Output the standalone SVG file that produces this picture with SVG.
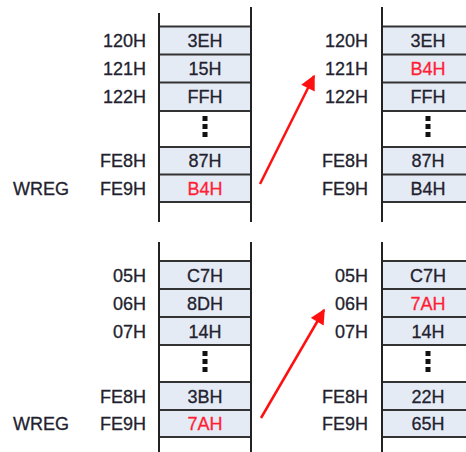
<svg xmlns="http://www.w3.org/2000/svg" width="466" height="452" viewBox="0 0 466 452">
<defs>
<style>
.cell{fill:#e5ebf5;stroke:none}
.hl{stroke:#333;stroke-width:2;fill:none}
.vl{stroke:#222;stroke-width:2;fill:none}
text{font-family:"Liberation Sans",Arial,sans-serif;font-size:18px;fill:#22222e;stroke:#22222e;stroke-width:0.3}
.addr{text-anchor:end}
.val{text-anchor:middle}
text.red{fill:#ff1f35;stroke:#ff1f35}
.dot{fill:#111}
.arrow{stroke:#ff1010;stroke-width:2.5;fill:none}
</style>
<marker id="ah" viewBox="0 0 10 10" refX="9" refY="5" markerWidth="6.5" markerHeight="6" markerUnits="strokeWidth" orient="auto">
<path d="M0,0 L10,5 L0,10 z" fill="#ff1010"/>
</marker>
</defs>

<g id="mem-top-before">
<rect class="cell" x="159" y="26.5" width="92" height="84.5"/>
<rect class="cell" x="159" y="147" width="92" height="55"/>
<path class="hl" d="M159 26.5H251M159 54.5H251M159 82.5H251M159 111H251M159 147H251M159 174.5H251M159 202H251"/>
<path class="vl" d="M159 13V222M251 7V222"/>
<rect class="dot" x="202.5" y="116" width="5" height="5"/>
<rect class="dot" x="202.5" y="124" width="5" height="5"/>
<rect class="dot" x="202.5" y="132" width="5" height="5"/>
<text class="addr" x="146" y="47">120H</text>
<text class="addr" x="146" y="75">121H</text>
<text class="addr" x="146" y="103">122H</text>
<text class="addr" x="146" y="167">FE8H</text>
<text class="addr" x="146" y="195">FE9H</text>
<text x="13" y="195">WREG</text>
<text class="val" x="205" y="47">3EH</text>
<text class="val" x="205" y="75">15H</text>
<text class="val" x="205" y="103">FFH</text>
<text class="val" x="205" y="167">87H</text>
<text class="val red" x="205" y="195">B4H</text>
</g>

<g id="mem-top-after">
<rect class="cell" x="382" y="26.5" width="84" height="84.5"/>
<rect class="cell" x="382" y="147" width="84" height="55"/>
<path class="hl" d="M382 26.5H466M382 54.5H466M382 82.5H466M382 111H466M382 147H466M382 174.5H466M382 202H466"/>
<path class="vl" d="M382 7V222"/>
<rect class="dot" x="425.5" y="116" width="5" height="5"/>
<rect class="dot" x="425.5" y="124" width="5" height="5"/>
<rect class="dot" x="425.5" y="132" width="5" height="5"/>
<text class="addr" x="368" y="47">120H</text>
<text class="addr" x="368" y="75">121H</text>
<text class="addr" x="368" y="103">122H</text>
<text class="addr" x="368" y="167">FE8H</text>
<text class="addr" x="368" y="195">FE9H</text>
<text class="val" x="428" y="47">3EH</text>
<text class="val red" x="428" y="75">B4H</text>
<text class="val" x="428" y="103">FFH</text>
<text class="val" x="428" y="167">87H</text>
<text class="val" x="428" y="195">B4H</text>
</g>

<g id="mem-bottom-before">
<rect class="cell" x="159" y="261" width="92" height="84"/>
<rect class="cell" x="159" y="382" width="92" height="55"/>
<path class="hl" d="M159 261H251M159 289H251M159 317H251M159 345H251M159 382H251M159 410H251M159 437H251"/>
<path class="vl" d="M159 242V452M251 242V452"/>
<rect class="dot" x="202.5" y="351" width="5" height="5"/>
<rect class="dot" x="202.5" y="359" width="5" height="5"/>
<rect class="dot" x="202.5" y="367" width="5" height="5"/>
<text class="addr" x="146" y="281.5">05H</text>
<text class="addr" x="146" y="309.5">06H</text>
<text class="addr" x="146" y="337.5">07H</text>
<text class="addr" x="146" y="402.5">FE8H</text>
<text class="addr" x="146" y="430">FE9H</text>
<text x="13" y="430">WREG</text>
<text class="val" x="205" y="281.5">C7H</text>
<text class="val" x="205" y="309.5">8DH</text>
<text class="val" x="205" y="337.5">14H</text>
<text class="val" x="205" y="402.5">3BH</text>
<text class="val red" x="205" y="430">7AH</text>
</g>

<g id="mem-bottom-after">
<rect class="cell" x="382" y="261" width="84" height="84"/>
<rect class="cell" x="382" y="382" width="84" height="55"/>
<path class="hl" d="M382 261H466M382 289H466M382 317H466M382 345H466M382 382H466M382 410H466M382 437H466"/>
<path class="vl" d="M382 242V452"/>
<rect class="dot" x="425.5" y="351" width="5" height="5"/>
<rect class="dot" x="425.5" y="359" width="5" height="5"/>
<rect class="dot" x="425.5" y="367" width="5" height="5"/>
<text class="addr" x="368" y="281.5">05H</text>
<text class="addr" x="368" y="309.5">06H</text>
<text class="addr" x="368" y="337.5">07H</text>
<text class="addr" x="368" y="402.5">FE8H</text>
<text class="addr" x="368" y="430">FE9H</text>
<text class="val" x="428" y="281.5">C7H</text>
<text class="val red" x="428" y="309.5">7AH</text>
<text class="val" x="428" y="337.5">14H</text>
<text class="val" x="428" y="402.5">22H</text>
<text class="val" x="428" y="430">65H</text>
</g>

<g id="connectors">
<line class="arrow" x1="260" y1="184" x2="314" y2="76" marker-end="url(#ah)"/>
<line class="arrow" x1="261" y1="418" x2="324" y2="310" marker-end="url(#ah)"/>
</g>
</svg>
